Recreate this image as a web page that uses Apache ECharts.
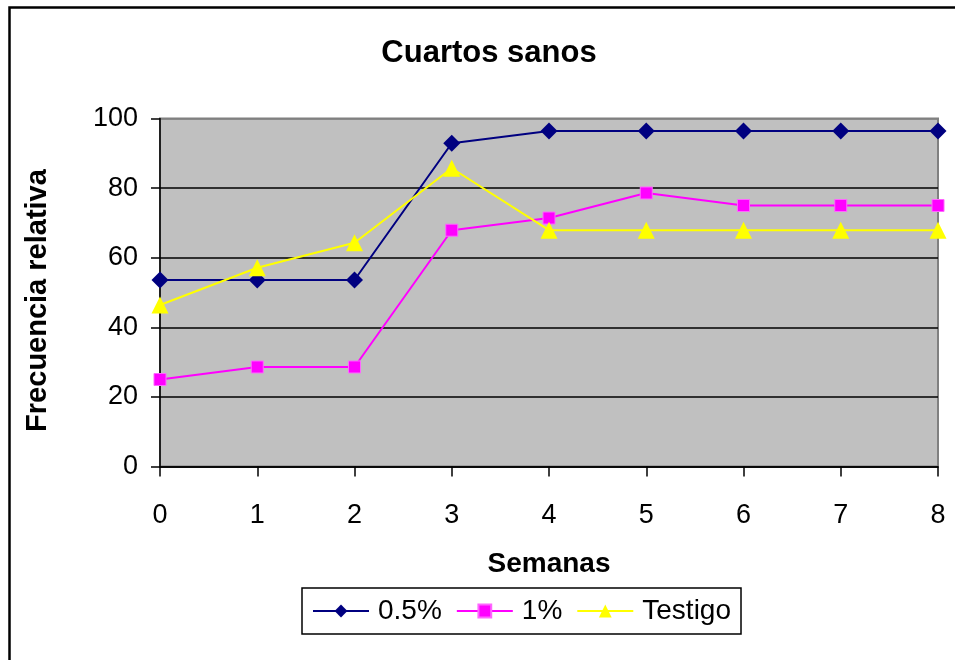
<!DOCTYPE html>
<html>
<head>
<meta charset="utf-8">
<script src="https://cdn.jsdelivr.net/npm/echarts@6/dist/echarts.min.js"></script>
<style>html,body{margin:0;padding:0;background:#fff}#c{width:955px;height:660px}</style>
</head>
<body>
<div id="c"></div>
<script>
var weeks = [0, 1, 2, 3, 4, 5, 6, 7, 8];
var s05 = [53.6, 53.6, 53.6, 92.9, 96.4, 96.4, 96.4, 96.4, 96.4];
var s1 = [25.0, 28.6, 28.6, 67.9, 71.4, 78.6, 75.0, 75.0, 75.0];
var testigo = [46.4, 57.1, 64.3, 85.7, 67.9, 67.9, 67.9, 67.9, 67.9];
var yTicks = [0, 20, 40, 60, 80, 100];

function pairs(vals) { return weeks.map(function (w, i) { return [w, vals[i]]; }); }
var F = '"Liberation Sans", Arial, sans-serif';
var chart = echarts.init(document.getElementById('c'));
chart.setOption({
  animation: false,
  backgroundColor: '#fff',
  textStyle: { fontFamily: F },
  title: {
    text: 'Cuartos sanos', left: 484, top: 33, textAlign: 'center',
    textStyle: { fontFamily: F, fontSize: 31, fontWeight: 'bold', color: '#000' }
  },
  graphic: [{
    type: 'rect', left: 7, top: 5, silent: true,
    shape: { width: 1000, height: 700 },
    style: { fill: 'none', stroke: '#000', lineWidth: 2.5 }
  }],
  grid: {
    left: 160, right: 17, top: 118.5, bottom: 193.5,
    show: true, backgroundColor: '#c0c0c0', borderColor: '#808080', borderWidth: 2
  },
  legend: {
    left: 302, top: 588,
    padding: [9, 10, 9, 10], itemGap: 14,
    borderColor: '#000', borderWidth: 1.5,
    itemWidth: 56, itemHeight: 16,
    textStyle: { fontFamily: F, fontSize: 28, color: '#000', padding: [0, 0, 0, 4] },
    data: ['0.5%', '1%', 'Testigo']
  },
  xAxis: {
    type: 'value', min: 0, max: 8, interval: 1,
    name: 'Semanas', nameLocation: 'middle', nameGap: 84,
    nameTextStyle: { fontFamily: F, fontSize: 28, fontWeight: 'bold', color: '#000' },
    axisLine: { lineStyle: { color: '#000', width: 1.5 } },
    axisTick: { show: true, length: 10, lineStyle: { color: '#000', width: 1.5 } },
    axisLabel: { fontFamily: F, fontSize: 27, color: '#000', margin: 36 },
    splitLine: { show: false }
  },
  yAxis: {
    type: 'value', min: 0, max: 100, interval: 20,
    name: 'Frecuencia relativa', nameLocation: 'middle', nameGap: 108,
    nameTextStyle: { fontFamily: F, fontSize: 29, fontWeight: 'bold', color: '#000', padding: [0, 16, 0, 0] },
    axisLine: { show: true, lineStyle: { color: '#000', width: 1.5 } },
    axisTick: { show: true, length: 9, lineStyle: { color: '#000', width: 1.5 } },
    axisLabel: { fontFamily: F, fontSize: 27, color: '#000', margin: 22 },
    splitLine: { show: true, lineStyle: { color: ['#000', '#000', '#000', '#000', '#000', '#808080'], width: 1.5 } }
  },
  series: [
    {
      name: '0.5%', type: 'line', data: pairs(s05),
      symbol: 'diamond', symbolSize: 17,
      lineStyle: { color: '#000080', width: 2 },
      itemStyle: { color: '#000080' }
    },
    {
      name: '1%', type: 'line', data: pairs(s1),
      symbol: 'rect', symbolSize: 12,
      lineStyle: { color: '#ff00ff', width: 2 },
      itemStyle: { color: '#ff00ff', borderColor: '#ff66ff', borderWidth: 1 }
    },
    {
      name: 'Testigo', type: 'line', data: pairs(testigo),
      symbol: 'triangle', symbolSize: 17,
      lineStyle: { color: '#ffff00', width: 2 },
      itemStyle: { color: '#ffff00' }
    }
  ]
});
</script>
</body>
</html>
